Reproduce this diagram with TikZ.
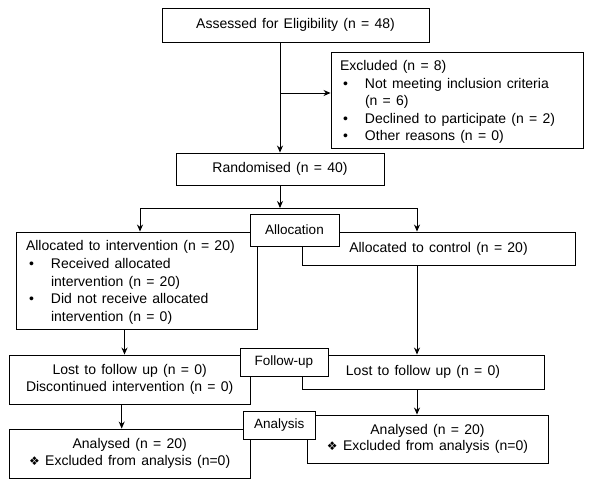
\documentclass[tikz,border=0pt]{standalone}
\usepackage{fontspec}
\setmainfont{Liberation Sans}[WordSpace=1.35]
\newfontfamily\symfont{DejaVu Sans}
\usetikzlibrary{arrows.meta,positioning}
\newcommand{\bitem}{\hspace*{3pt}\makebox[22pt][l]{•}}
\newcommand{\bcont}{\hspace*{25pt}}
\newcommand{\dmd}{{\symfont\fontsize{12}{12}\selectfont ❖}}

\begin{document}
\begin{tikzpicture}[>={Stealth[length=7pt,width=6pt]}, x=1pt, y=-1pt, line width=0.9pt]
\tikzstyle{box}=[draw, fill=white, inner sep=0pt, font=\fontsize{14}{16.5}\selectfont]
\tikzstyle{txt}=[inner sep=0pt, align=left, font=\fontsize{14}{17.6}\selectfont]
\tikzstyle{tag}=[draw, fill=white, inner sep=0pt, font=\fontsize{13.5}{16}\selectfont]
\useasboundingbox (0,0) rectangle (592,483);
\node[box, minimum width=267, minimum height=34] (assess) at (295.5,25) {Assessed for Eligibility (n = 48)};
\node[box, minimum width=252, minimum height=96] (excl) at (457,100) {};
\node[txt, anchor=west] (excltxt) at ([xshift=9pt,yshift=-2pt]excl.west)
  {Excluded (n = 8)\\ \bitem Not meeting inclusion criteria\\ \bcont (n = 6)\\ \bitem Declined to participate (n = 2)\\ \bitem Other reasons (n = 0)};
\node[box, minimum width=208, minimum height=32] (rand) at (280,169) {Randomised (n = 40)};
\node[box, minimum width=241, minimum height=97] (interv) at (136.5,280.5) {};
\node[txt, anchor=west] (intervtxt) at ([xshift=10pt,yshift=-2pt]interv.west)
  {Allocated to intervention (n = 20)\\ \bitem Received allocated\\ \bcont intervention (n = 20)\\ \bitem Did not receive allocated\\ \bcont intervention (n = 0)};
\node[box, minimum width=273, minimum height=33] (ctrl) at (438.5,248.5) {Allocated to control (n = 20)};
\node[box, minimum width=241, minimum height=49, align=center] (lostl) at (129.7,379.5)
  {Lost to follow up (n = 0)\\ Discontinued intervention (n = 0)};
\node[box, minimum width=242, minimum height=34] (lostr) at (423,372) {Lost to follow up (n = 0)};
\node[box, minimum width=241, minimum height=49, align=center] (anal) at (129.7,453.5)
  {Analysed (n = 20)\\ \dmd\ Excluded from analysis (n=0)};
\node[box, minimum width=241, minimum height=48, align=center] (analr) at (427.5,439)
  {Analysed (n = 20)\\ \dmd\ Excluded from analysis (n=0)};
\coordinate (split) at (280,93);
\coordinate (fork) at (280,208);
\coordinate (lfork) at (140,208);
\coordinate (rfork) at (417,208);
\draw[->] (assess.south -| rand.north) -- (rand.north);
\draw[->] (split) -- (split -| excl.west);
\draw[->] (rand.south) -- (fork);
\draw (lfork) -- (rfork);
\draw[->] (lfork) -- (lfork |- interv.north);
\draw[->] (rfork) -- (rfork |- ctrl.north);
\draw[->] ([xshift=-12pt]interv.south) -- ([xshift=-12pt]interv.south |- lostl.north);
\draw[->] ([xshift=-8pt]lostl.south) -- ([xshift=-8pt]lostl.south |- anal.north);
\draw[->] ([xshift=-21.5pt]ctrl.south) -- ([xshift=-21.5pt]ctrl.south |- lostr.north);
\draw[->] ([xshift=-6pt]lostr.south) -- ([xshift=-6pt]lostr.south |- analr.north);
\node[tag, minimum width=89, minimum height=32] (alloc) at (294.5,230) {Allocation};
\node[tag, minimum width=88, minimum height=28] (follow) at (284,362) {Follow-up};
\node[tag, minimum width=71.6, minimum height=28] (analysis) at (279.2,425) {Analysis};
\end{tikzpicture}
\end{document}
